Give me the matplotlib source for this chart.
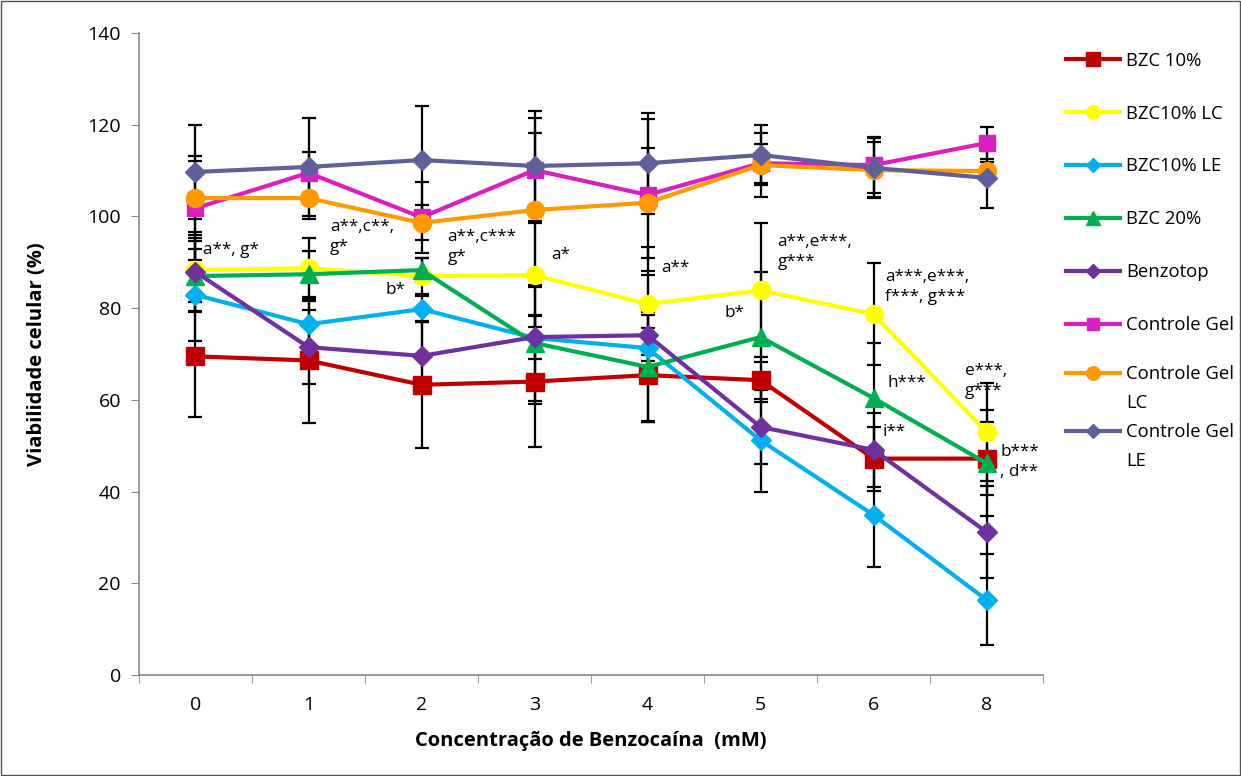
import numpy as np
import matplotlib.pyplot as plt
from matplotlib.lines import Line2D
from matplotlib.patches import Rectangle

plt.rcParams['font.family'] = ['Open Sans', 'DejaVu Sans']

conc = ['0', '1', '2', '3', '4', '5', '6', '8']

bzc10 = [69.5, 68.6, 63.3, 64.0, 65.4, 64.3, 47.2, 47.2]
bzc10_err = [13.2, 13.6, 13.8, 14.3, 10.2, 4.0, 7.0, 8.0]
bzc10_lc = [88.3, 88.7, 87.0, 87.2, 80.9, 83.9, 78.7, 53.0]
bzc10_lc_err = [7.0, 6.6, 4.0, 11.4, 12.4, 14.6, 11.1, 10.7]
bzc10_le = [82.9, 76.5, 79.8, 73.5, 71.3, 51.2, 34.9, 16.4]
bzc10_le_err = [10.0, 5.0, 2.8, 14.4, 16.0, 11.3, 11.3, 9.9]
bzc20 = [87.0, 87.4, 88.3, 72.4, 67.2, 73.7, 60.4, 46.2]
bzc20_err = [7.7, 5.0, 2.6, 12.6, 12.0, 14.2, 12.0, 11.5]
benzotop = [87.9, 71.5, 69.6, 73.7, 74.1, 54.1, 49.1, 31.2]
benzotop_err = [8.7, 8.0, 7.4, 4.8, 4.4, 8.0, 8.0, 10.1]
ctrl_gel = [101.8, 109.5, 99.8, 110.1, 104.7, 111.6, 111.2, 116.0]
ctrl_gel_err = [11.4, 4.5, 7.7, 11.4, 16.5, 4.3, 6.1, 3.5]
ctrl_gel_lc = [104.0, 104.0, 98.6, 101.4, 103.0, 111.2, 110.1, 109.9]
ctrl_gel_lc_err = [8.0, 4.5, 3.8, 16.8, 12.0, 7.0, 6.1, 2.0]
ctrl_gel_le = [109.7, 110.8, 112.3, 111.0, 111.6, 113.4, 110.6, 108.4]
ctrl_gel_le_err = [10.2, 10.7, 11.8, 12.0, 11.0, 6.5, 6.4, 6.5]

# (legend first line, legend second line, values, errors, colour, marker, size)
series = [
    ('BZC 10%', '', bzc10, bzc10_err, '#C00000', 's', 13),
    ('BZC10% LC', '', bzc10_lc, bzc10_lc_err, '#FFFF00', 'o', 13),
    ('BZC10% LE', '', bzc10_le, bzc10_le_err, '#00B0F0', 'D', 10),
    ('BZC 20%', '', bzc20, bzc20_err, '#00B050', '^', 13),
    ('Benzotop', '', benzotop, benzotop_err, '#7030A0', 'D', 10),
    ('Controle Gel', '', ctrl_gel, ctrl_gel_err, '#DA1FC2', 's', 12),
    ('Controle Gel', 'LC', ctrl_gel_lc, ctrl_gel_lc_err, '#FF9900', 'o', 13),
    ('Controle Gel', 'LE', ctrl_gel_le, ctrl_gel_le_err, '#5F5F99', 'D', 10),
]

x = np.arange(len(conc))

fig = plt.figure(figsize=(12.41, 7.76), dpi=100)
ax = fig.add_axes([0.112, 0.130, 0.7285, 0.8275])

handles = []
for name, name2, vals, err, color, mk, ms in series:
    ax.errorbar(x, vals, yerr=err, fmt='none', ecolor='black', elinewidth=1.6,
                capsize=5, capthick=1.6, zorder=2)
    ax.plot(x, vals, color=color, marker=mk, markersize=ms, linewidth=3,
            zorder=3)
    handles.append(Line2D([], [], color=color, marker=mk, markersize=ms * 0.75,
                          linewidth=3, label=name))
    if name2:
        # second line of a wrapped legend label, no symbol
        handles.append(Line2D([], [], linestyle='none', label=name2))

# significance labels
notes = [
    (0.07, 92.7, 'a**, g*'),
    (1.19, 95.5, 'a**,c**,\ng*'),
    (1.68, 84.0, 'b*'),
    (2.23, 93.3, 'a**,c***\ng*'),
    (3.15, 91.6, 'a*'),
    (4.12, 88.7, 'a**'),
    (4.68, 79.0, 'b*'),
    (5.15, 92.2, 'a**,e***,\ng***'),
    (6.10, 84.6, 'a***,e***,\nf***, g***'),
    (6.12, 63.7, 'h***'),
    (6.08, 53.0, 'i**'),
    (6.81, 64.1, 'e***,\ng***'),
    (7.12, 46.4, 'b***\n, d**'),
]
for nx, ny, txt in notes:
    ax.text(nx, ny, txt, fontsize=12.3, ha='left', va='center', linespacing=1.3)

ax.set_xlim(-0.5, len(conc) - 0.5)
ax.set_ylim(0, 140)
ax.set_yticks(np.arange(0, 141, 20))
ax.set_xticks(x)
ax.set_xticklabels(conc)
ax.set_xticks(np.arange(-0.5, len(conc), 1), minor=True)
ax.tick_params(axis='x', which='major', length=0, pad=15, labelsize=14)
ax.tick_params(axis='x', which='minor', length=6, color='#888888', direction='out')
ax.tick_params(axis='y', length=6, color='#888888', labelsize=14, pad=7)

for s in ['top', 'right']:
    ax.spines[s].set_visible(False)
for s in ['left', 'bottom']:
    ax.spines[s].set_color('#888888')
    ax.spines[s].set_linewidth(1.2)

ax.set_ylabel('Viabilidade celular (%)', fontsize=14.5, fontweight='bold', labelpad=29)
ax.set_xlabel('Concentração de Benzocaína  (mM)', fontsize=14.5, fontweight='bold', labelpad=12)

leg1 = fig.legend(handles=handles[:6], loc='upper left', bbox_to_anchor=(0.853, 0.943),
                  frameon=False, fontsize=13.3, labelspacing=1.89, handlelength=2.9,
                  handletextpad=0.35, borderaxespad=0)
leg2 = fig.legend(handles=handles[6:], loc='upper left', bbox_to_anchor=(0.853, 0.539),
                  frameon=False, fontsize=13.3, labelspacing=0.6, handlelength=2.9,
                  handletextpad=0.35, borderaxespad=0)

fig.patches.append(Rectangle((0.001, 0.001), 0.998, 0.998, transform=fig.transFigure,
                             fill=False, edgecolor='#555555', linewidth=1))

fig.savefig('out.png', dpi=100)
